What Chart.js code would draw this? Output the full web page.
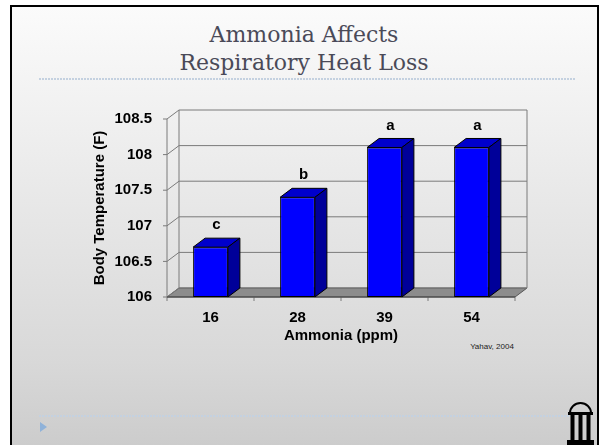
<!DOCTYPE html>
<html>
<head>
<meta charset="utf-8">
<script src="https://cdn.jsdelivr.net/npm/chart.js@4"></script>
<style>
  body { margin: 0; width: 600px; height: 445px; overflow: hidden; background: #fff; position: relative; }
  .slide { position: absolute; left: 10px; top: 5px; width: 585px; height: 445px;
           border: 2px solid #000; border-bottom: none;
           background: linear-gradient(#fbfbfb, #d8d8d8 80%, #cbcbcb); }
  .title { position: absolute; left: 0; width: 608px; top: 21px; text-align: center;
           font-family: "DejaVu Serif", serif; font-size: 22px; line-height: 28px; color: #4a4a58; }
  .dots { position: absolute; height: 2px;
          background: repeating-linear-gradient(90deg, #c4d1e0 0 2px, transparent 2px 3px); }
  .arrow { position: absolute; left: 40px; top: 422px; width: 0; height: 0;
           border-top: 5.5px solid transparent; border-bottom: 5.5px solid transparent;
           border-left: 7px solid #8fb2d9; }
  .source { position: absolute; left: 462px; top: 342px; width: 60px; text-align: center;
            font-family: "Liberation Sans", Arial, sans-serif; font-size: 8px; color: #222; }
  canvas { position: absolute; left: 0; top: 0; }
  svg { position: absolute; left: 0; top: 0; }
</style>
</head>
<body>
<div class="slide"></div>
<div class="title">Ammonia Affects<br>Respiratory Heat Loss</div>
<div class="dots" style="left:39px; top:78px; width:536px;"></div>
<div class="dots" style="left:39px; top:415px; width:531px;"></div>
<div class="arrow"></div>
<div class="source">Yahav, 2004</div>
<svg width="600" height="445">
  <path d="M570,413 A10.5,10 0 0 1 591,413" fill="none" stroke="#000" stroke-width="2"/>
  <rect x="568" y="412" width="25" height="3" fill="#000"/>
  <rect x="570.5" y="415" width="4" height="26" fill="#000"/>
  <rect x="578.5" y="415" width="4" height="26" fill="#000"/>
  <rect x="586.5" y="415" width="4" height="26" fill="#000"/>
  <rect x="567" y="440" width="27" height="5" fill="#000"/>
</svg>
<canvas id="chart" width="600" height="445"></canvas>
<script>
const categories = ['16', '28', '39', '54'];
const bodyTemp = [106.7, 107.4, 108.1, 108.1];
const sigLetters = ['c', 'b', 'a', 'a'];
const yTicks = [106, 106.5, 107, 107.5, 108, 108.5];

// depth offset of the fake 3d box
const DX = 12, DY = -9;

function line(ctx, x1, y1, x2, y2) {
  ctx.beginPath();
  ctx.moveTo(x1, y1);
  ctx.lineTo(x2, y2);
  ctx.stroke();
}

function poly(ctx, pts, fill) {
  ctx.beginPath();
  ctx.moveTo(pts[0][0], pts[0][1]);
  pts.slice(1).forEach(p => ctx.lineTo(p[0], p[1]));
  ctx.closePath();
  ctx.fillStyle = fill;
  ctx.fill();
  ctx.stroke();
}

const box3d = {
  id: 'box3d',
  beforeDatasetsDraw(chart) {
    const { ctx, chartArea: a, scales: { x, y } } = chart;
    const base = y.getPixelForValue(yTicks[0]);
    const top = y.getPixelForValue(yTicks[yTicks.length - 1]);
    ctx.save();
    ctx.lineWidth = 1;
    // floor
    ctx.strokeStyle = '#555';
    poly(ctx, [[a.left, base], [a.right, base], [a.right + DX, base + DY], [a.left + DX, base + DY]], '#8c8c8c');
    // grid on back and side walls
    ctx.strokeStyle = '#7a7a7a';
    yTicks.forEach(v => {
      const py = y.getPixelForValue(v);
      line(ctx, a.left + DX, py + DY, a.right + DX, py + DY);
      line(ctx, a.left, py, a.left + DX, py + DY);
      line(ctx, a.left - 4, py, a.left, py);
    });
    line(ctx, a.left, top, a.left, base);
    line(ctx, a.left + DX, top + DY, a.left + DX, base + DY);
    line(ctx, a.right + DX, top + DY, a.right + DX, base + DY);
    // category ticks under the floor
    const w = (a.right - a.left) / categories.length;
    for (let i = 0; i <= categories.length; i++) {
      line(ctx, a.left + i * w, base, a.left + i * w, base + 4);
    }
    ctx.strokeStyle = '#444';
    line(ctx, a.left, base, a.right, base);
    ctx.restore();
  },
  afterDatasetsDraw(chart) {
    const { ctx } = chart;
    const meta = chart.getDatasetMeta(0);
    ctx.save();
    ctx.strokeStyle = '#000';
    ctx.lineWidth = 1;
    meta.data.forEach((bar, i) => {
      const l = bar.x - bar.width / 2, r = bar.x + bar.width / 2;
      const t = bar.y, b = bar.base;
      poly(ctx, [[l, t], [r, t], [r + DX, t + DY], [l + DX, t + DY]], '#0000cc');
      poly(ctx, [[r, t], [r + DX, t + DY], [r + DX, b + DY], [r, b]], '#000099');
      ctx.fillStyle = '#000';
      ctx.font = 'bold 15px "Liberation Sans", Arial, sans-serif';
      ctx.textAlign = 'center';
      ctx.textBaseline = 'middle';
      ctx.fillText(sigLetters[i], bar.x + DX / 2, t + DY - 13);
    });
    ctx.restore();
  }
};

Chart.defaults.font.family = '"Liberation Sans", Arial, sans-serif';
Chart.defaults.color = '#000';

new Chart(document.getElementById('chart'), {
  type: 'bar',
  data: {
    labels: categories,
    datasets: [{
      data: bodyTemp,
      base: yTicks[0],
      backgroundColor: '#0000ff',
      borderColor: '#000',
      borderWidth: 1,
      borderSkipped: false,
      categoryPercentage: 1,
      barPercentage: 0.4,
    }],
  },
  options: {
    responsive: false,
    animation: false,
    layout: { padding: { left: 80, top: 119, right: 85, bottom: 100 } },
    plugins: { legend: { display: false }, tooltip: { enabled: false } },
    scales: {
      x: {
        grid: { display: false, drawTicks: false },
        border: { display: false },
        ticks: { font: { size: 15, weight: 'bold' }, padding: 12 },
        title: {
          display: true,
          text: 'Ammonia (ppm)',
          font: { size: 15, weight: 'bold' },
          padding: { top: 0, bottom: 0 },
        },
        afterFit: s => { s.height = 48; },
      },
      y: {
        min: yTicks[0],
        max: yTicks[yTicks.length - 1],
        afterBuildTicks: s => { s.ticks = yTicks.map(v => ({ value: v })); },
        grid: { display: false, drawTicks: false },
        border: { display: false },
        ticks: { font: { size: 15, weight: 'bold' }, padding: 15, callback: v => String(v) },
        title: {
          display: true,
          text: 'Body Temperature (F)',
          font: { size: 15, weight: 'bold' },
          padding: { top: 11, bottom: 0 },
        },
        afterFit: s => { s.width = 87; },
      },
    },
  },
  plugins: [box3d],
});
</script>
</body>
</html>
